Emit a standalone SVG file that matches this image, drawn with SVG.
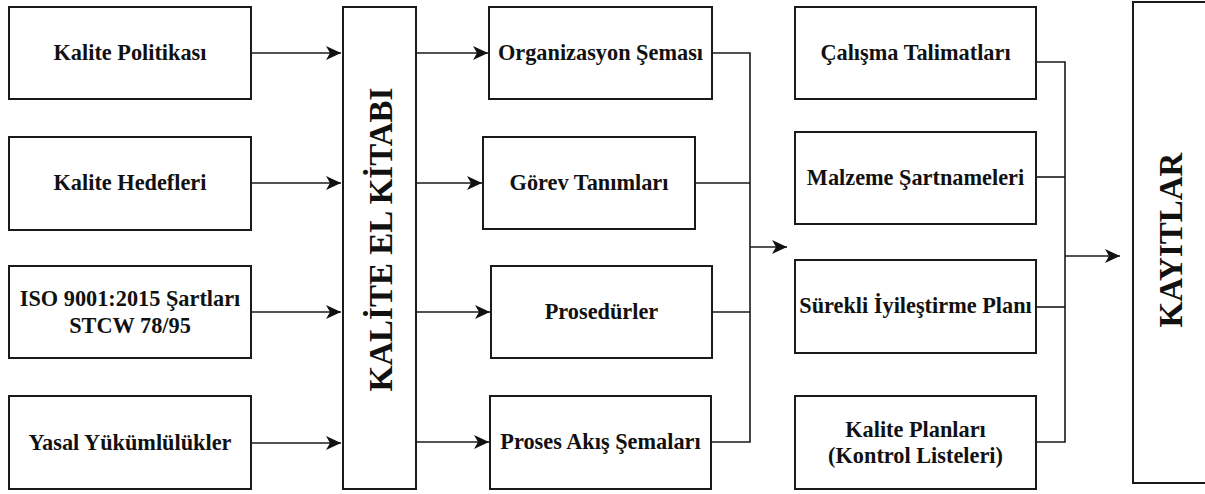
<svg xmlns="http://www.w3.org/2000/svg" width="1205" height="494" viewBox="0 0 1205 494">
<style>
.box{fill:#fff;stroke:#1a1a1a;stroke-width:2}
.lbl{font-family:"Liberation Serif","Times New Roman",serif;font-weight:700;font-size:22.3px;fill:#111;text-anchor:middle}
.big{font-family:"Liberation Serif","Times New Roman",serif;font-weight:700;font-size:33px;fill:#111;text-anchor:middle}
.c{fill:none;stroke:#1a1a1a;stroke-width:1.6}
</style>
<defs>
<marker id="ah" markerUnits="userSpaceOnUse" markerWidth="16" markerHeight="14" refX="15" refY="7" orient="auto" viewBox="0 0 16 14">
<path d="M0,0 L15,7 L0,14 L4,7 Z" fill="#111"/>
</marker>
</defs>
<rect width="1205" height="494" fill="#fff"/>

<g id="n-politika"><rect class="box" x="9" y="7" width="242" height="92"/><text class="lbl" x="130" y="60">Kalite Politikası</text></g>
<g id="n-hedefler"><rect class="box" x="9" y="137" width="242" height="93"/><text class="lbl" x="130" y="190">Kalite Hedefleri</text></g>
<g id="n-iso"><rect class="box" x="9" y="266" width="242" height="92"/><text class="lbl" x="130" y="306">ISO 9001:2015 Şartları</text><text class="lbl" x="130" y="333">STCW 78/95</text></g>
<g id="n-yasal"><rect class="box" x="9" y="396" width="242" height="93"/><text class="lbl" x="130" y="450">Yasal Yükümlülükler</text></g>

<g id="n-elkitabi"><rect class="box" x="343" y="7" width="73" height="482"/><text class="big" transform="translate(392,239.5) rotate(-90)">KALİTE EL KİTABI</text></g>

<g id="n-org"><rect class="box" x="489" y="7" width="223" height="92"/><text class="lbl" x="600.5" y="60">Organizasyon Şeması</text></g>
<g id="n-gorev"><rect class="box" x="483" y="137" width="212" height="92"/><text class="lbl" x="589" y="190">Görev Tanımları</text></g>
<g id="n-prosedur"><rect class="box" x="491" y="266" width="221" height="92"/><text class="lbl" x="601.5" y="319">Prosedürler</text></g>
<g id="n-proses"><rect class="box" x="490" y="396" width="221" height="93"/><text class="lbl" x="600.5" y="449">Proses Akış Şemaları</text></g>

<g id="n-calisma"><rect class="box" x="795" y="7" width="241" height="92"/><text class="lbl" x="915.5" y="60">Çalışma Talimatları</text></g>
<g id="n-malzeme"><rect class="box" x="795" y="132" width="241" height="92"/><text class="lbl" x="915.5" y="185">Malzeme Şartnameleri</text></g>
<g id="n-surekli"><rect class="box" x="795" y="260" width="241" height="93"/><text class="lbl" x="915.5" y="313">Sürekli İyileştirme Planı</text></g>
<g id="n-planlar"><rect class="box" x="795" y="396" width="241" height="93"/><text class="lbl" x="915.5" y="437">Kalite Planları</text><text class="lbl" x="915.5" y="463">(Kontrol Listeleri)</text></g>

<g id="n-kayitlar"><rect class="box" x="1133" y="2" width="90" height="481"/><text class="big" transform="translate(1182,240) rotate(-90)">KAYITLAR</text></g>

<g id="connectors">
<line class="c" x1="251" y1="53" x2="341" y2="53" marker-end="url(#ah)"/>
<line class="c" x1="251" y1="183" x2="341" y2="183" marker-end="url(#ah)"/>
<line class="c" x1="251" y1="312" x2="341" y2="312" marker-end="url(#ah)"/>
<line class="c" x1="251" y1="443" x2="341" y2="443" marker-end="url(#ah)"/>

<line class="c" x1="416" y1="53" x2="488" y2="53" marker-end="url(#ah)"/>
<line class="c" x1="416" y1="183" x2="482" y2="183" marker-end="url(#ah)"/>
<line class="c" x1="416" y1="312" x2="490" y2="312" marker-end="url(#ah)"/>
<line class="c" x1="416" y1="442" x2="489" y2="442" marker-end="url(#ah)"/>

<polyline class="c" points="712,53 750,53 750,442 711,442"/>
<line class="c" x1="695" y1="183" x2="750" y2="183"/>
<line class="c" x1="712" y1="312" x2="750" y2="312"/>
<line class="c" x1="750" y1="247" x2="787" y2="247" marker-end="url(#ah)"/>

<polyline class="c" points="1036,62 1065,62 1065,442 1036,442"/>
<line class="c" x1="1036" y1="177" x2="1065" y2="177"/>
<line class="c" x1="1036" y1="307" x2="1065" y2="307"/>
<line class="c" x1="1065" y1="256" x2="1120" y2="256" marker-end="url(#ah)"/>
</g>
</svg>
